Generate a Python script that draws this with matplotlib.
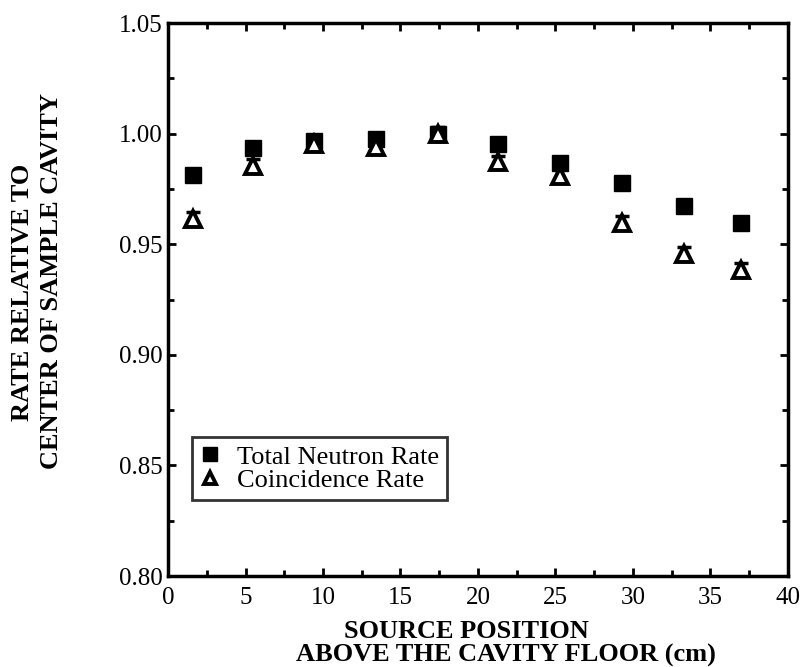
import matplotlib
matplotlib.use('Agg')
import matplotlib.pyplot as plt
from matplotlib.ticker import MultipleLocator, FormatStrFormatter

# posicao da fonte (cm) e taxas relativas
pos = [1.6, 5.5, 9.4, 13.4, 17.4, 21.3, 25.3, 29.3, 33.3, 37.0]
total = [0.9815, 0.9937, 0.9968, 0.9977, 1.000, 0.9955, 0.9869, 0.9778, 0.9675, 0.9595]
coinc = [0.9616, 0.9855, 0.9955, 0.9940, 0.9998, 0.9870, 0.9810, 0.9598, 0.9458, 0.9385]
coinc_err = [0.003, 0.003, 0.002, 0.003, 0.003, 0.003, 0.003, 0.003, 0.003, 0.003]

plt.rcParams['font.family'] = ['Liberation Serif', 'DejaVu Serif']

fig = plt.figure(figsize=(8.02, 6.67), dpi=100)
ax = fig.add_axes([0.2095, 0.1364, 0.773, 0.829])

ax.plot(pos, total, 's', color='black', ms=12, label='Total Neutron Rate', zorder=3)
ax.errorbar(pos, coinc, yerr=coinc_err, fmt='none', ecolor='black', elinewidth=2.5,
            capsize=5, capthick=2.5, zorder=4)
ax.plot(pos, coinc, '^', mfc='white', mec='black', mew=2.8, ms=11,
        label='Coincidence Rate', zorder=5)

ax.set_xlim(0, 40)
ax.set_ylim(0.80, 1.05)
ax.xaxis.set_major_locator(MultipleLocator(5))
ax.xaxis.set_minor_locator(MultipleLocator(2.5))
ax.yaxis.set_major_locator(MultipleLocator(0.05))
ax.yaxis.set_minor_locator(MultipleLocator(0.025))
ax.yaxis.set_major_formatter(FormatStrFormatter('%.2f'))
ax.tick_params(which='both', direction='in', top=True, right=True, width=2, labelsize=18)
ax.tick_params(which='major', length=6)
ax.tick_params(which='minor', length=4)
ax.tick_params(axis='x', pad=8)
ax.tick_params(axis='y', pad=4)
for s in ax.spines.values():
    s.set_linewidth(2.5)

# rotulos dos eixos (duas linhas cada)
fig.text(23/802, 1 - 292/667, 'RATE RELATIVE TO', rotation=90,
         fontsize=19, fontweight='bold', ha='center', va='center')
fig.text(52/802, 1 - 281/667, 'CENTER OF SAMPLE CAVITY', rotation=90,
         fontsize=19, fontweight='bold', ha='center', va='center')
fig.text(466/802, 1 - 631/667, 'SOURCE POSITION', fontsize=19, fontweight='bold',
         ha='center', va='center')
fig.text(506/802, 1 - 655/667, 'ABOVE THE CAVITY FLOOR (cm)', fontsize=19, fontweight='bold',
         ha='center', va='center')

leg = ax.legend(loc='lower left', bbox_to_anchor=(24/620, 76/553), fontsize=19, frameon=True,
                fancybox=False, edgecolor='black', handletextpad=0.6, borderpad=0.3,
                labelspacing=0.0, handlelength=0.8, borderaxespad=0, markerscale=0.8)
leg.get_frame().set_linewidth(2)

fig.savefig('out.png', dpi=100)
